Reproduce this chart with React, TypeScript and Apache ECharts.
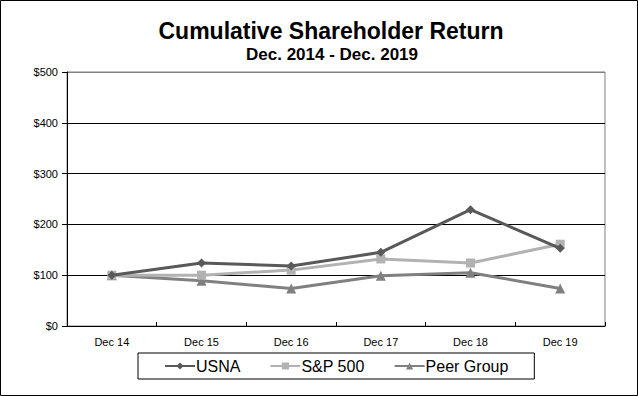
import React, { useEffect, useRef } from "react";
import * as echarts from "echarts";

const categories = ["Dec 14", "Dec 15", "Dec 16", "Dec 17", "Dec 18", "Dec 19"];
const usna = [100, 124, 118, 145, 229, 153];
const sp500 = [100, 100, 110, 132, 124, 161];
const peerGroup = [100, 89, 74, 99, 105, 74];
const yTicks = [0, 100, 200, 300, 400, 500];

const FONT = "'Liberation Sans', Arial, sans-serif";

export default function App() {
  const ref = useRef<HTMLDivElement>(null);
  useEffect(() => {
    document.body.style.margin = "0";
    const chart = echarts.init(ref.current!, null, { renderer: "svg" });
    chart.setOption({
      animation: false,
      backgroundColor: "#fff",
      textStyle: { fontFamily: FONT },
      title: [
        {
          text: "Cumulative Shareholder Return",
          left: 326,
          top: 14,
          textAlign: "center",
          textStyle: { fontFamily: FONT, fontSize: 23, fontWeight: "bold", color: "#000" },
        },
        {
          text: "Dec. 2014 - Dec. 2019",
          left: 327,
          top: 41,
          textAlign: "center",
          textStyle: { fontFamily: FONT, fontSize: 17, fontWeight: "bold", color: "#000" },
        },
      ],
      graphic: [
        {
          type: "rect",
          shape: { x: 0.5, y: 0.5, width: 637, height: 395 },
          style: { fill: "none", stroke: "#000", lineWidth: 1 },
          silent: true,
        },
      ],
      legend: {
        left: 138,
        top: 353,
        itemGap: 29,
        padding: [5, 26, 5, 26],
        borderColor: "#000",
        borderWidth: 1,
        itemWidth: 30,
        itemHeight: 9,
        textStyle: { fontFamily: FONT, fontSize: 16, color: "#000", padding: [0, 0, 0, -4] },
        data: ["USNA", "S&P 500", "Peer Group"],
      },
      grid: {
        left: 67,
        top: 72,
        right: 33,
        bottom: 70,
        show: true,
        borderColor: "#808080",
        borderWidth: 1,
        containLabel: false,
      },
      xAxis: {
        type: "category",
        data: categories,
        boundaryGap: true,
        axisLine: { lineStyle: { color: "#000", width: 1 } },
        axisTick: { show: true, inside: true, length: 4, lineStyle: { color: "#000" } },
        axisLabel: { fontFamily: FONT, fontSize: 11, color: "#000", margin: 10 },
      },
      yAxis: {
        type: "value",
        min: yTicks[0],
        max: yTicks[yTicks.length - 1],
        interval: 100,
        axisLine: { show: true, lineStyle: { color: "#000", width: 1 } },
        axisTick: { show: true, inside: false, length: 5, lineStyle: { color: "#000" } },
        axisLabel: {
          fontFamily: FONT,
          fontSize: 11,
          color: "#000",
          margin: 9,
          formatter: (v: number) => "$" + v,
        },
        splitLine: {
          show: true,
          lineStyle: { color: ["#000", "#000", "#000", "#000", "#000", "#808080"], width: 1 },
        },
      },
      series: [
        {
          name: "USNA",
          type: "line",
          data: usna,
          symbol: "diamond",
          symbolSize: 9,
          lineStyle: { color: "#595959", width: 3 },
          itemStyle: { color: "#595959" },
          z: 3,
        },
        {
          name: "S&P 500",
          type: "line",
          data: sp500,
          symbol: "rect",
          symbolSize: 9,
          lineStyle: { color: "#b2b2b2", width: 3 },
          itemStyle: { color: "#b2b2b2" },
          z: 2,
        },
        {
          name: "Peer Group",
          type: "line",
          data: peerGroup,
          symbol: "triangle",
          symbolSize: 10,
          lineStyle: { color: "#808080", width: 3 },
          itemStyle: { color: "#808080" },
          z: 1,
        },
      ],
    });
    return () => chart.dispose();
  }, []);
  return <div ref={ref} style={{ width: 638, height: 396 }} />;
}
